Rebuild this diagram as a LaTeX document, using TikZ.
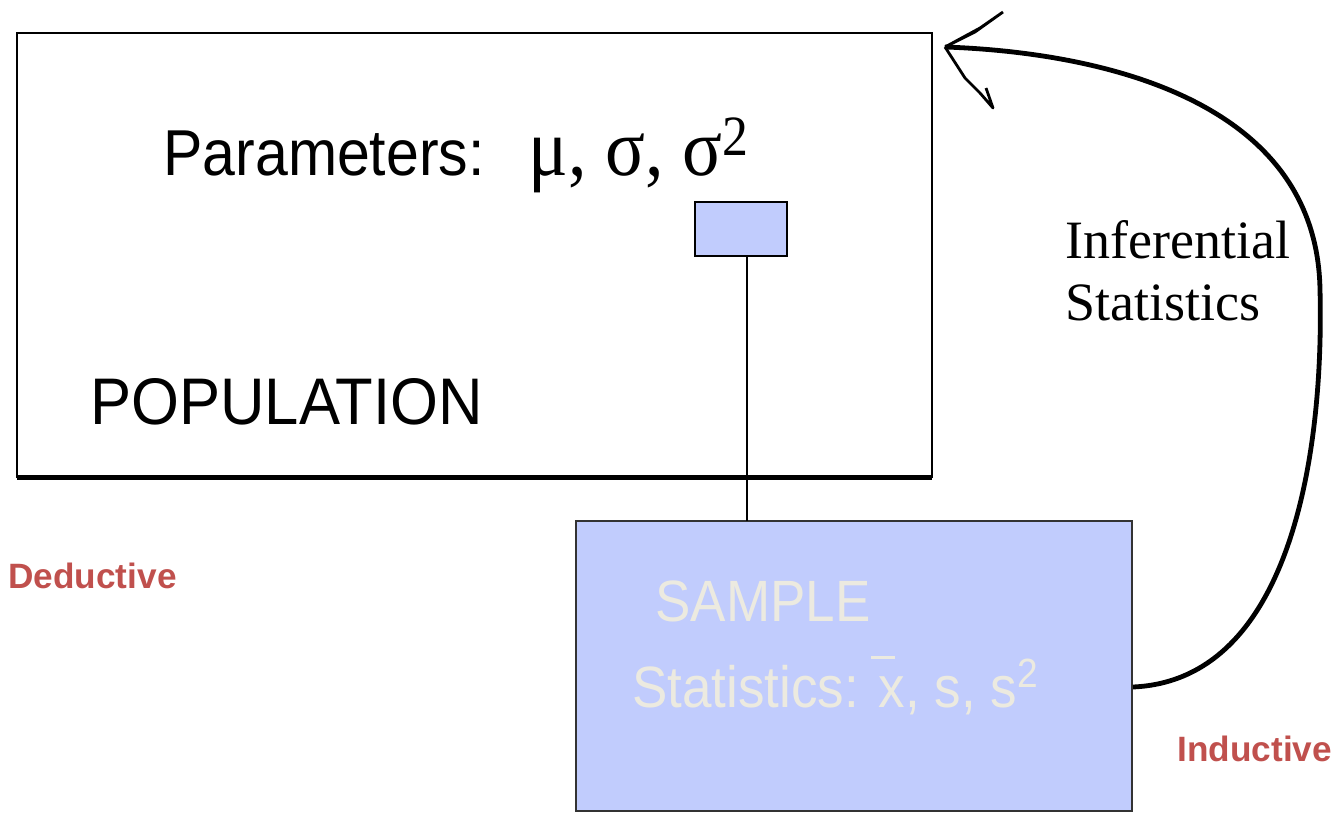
\documentclass[tikz,border=0pt]{standalone}
\usepackage{fontspec}
\setmainfont{Liberation Sans}
\newfontfamily\timesf{Liberation Serif}
\definecolor{boxblue}{HTML}{C1CCFD}
\definecolor{redtxt}{HTML}{C0504D}
\definecolor{paletxt}{HTML}{ECEAE0}
\tikzset{
  boxshape/.style={rectangle, inner sep=0pt, outer sep=0pt, anchor=north west},
  bigtxt/.style={anchor=base west, inner sep=0pt, font=\fontsize{29.5}{35}\selectfont},
  redlabel/.style={anchor=base west, inner sep=0pt, text=redtxt, font=\fontsize{17.6}{20}\selectfont\bfseries},
}
\begin{document}
\begin{tikzpicture}[x=0.5pt,y=-0.5pt]
\useasboundingbox (0,0) rectangle (1337,813);
% population
\node[boxshape, draw=black, line width=1pt, minimum width=457.5pt, minimum height=222pt] (pop) at (17,33) {};
\draw[line width=2.5pt] (pop.south west) -- (pop.south east);
\node[bigtxt] (params) at (163,175) {\scalebox{1}[1.1]{Parameters:\hspace{0.75em}{\timesf\fontsize{37}{40}\selectfont μ, σ, σ\textsuperscript{2}}}};
\node[bigtxt, font=\fontsize{30.8}{35}\selectfont] (poptxt) at (90,424) {\scalebox{1}[1.07]{POPULATION}};
% small box
\node[boxshape, draw=black, line width=1pt, fill=boxblue, minimum width=46pt, minimum height=27pt] (small) at (695,202) {};
% sample
\node[boxshape, draw=black!80, line width=0.9pt, fill=boxblue, minimum width=278pt, minimum height=145pt] (sample) at (576,521) {};
\draw[line width=0.6pt] ([xshift=3pt]small.south) -- ([xshift=3pt]small.south |- sample.north);
\node[bigtxt, text=paletxt, font=\fontsize{26.5}{30}\selectfont] (samptxt) at (655,621) {\scalebox{1}[1.1]{SAMPLE}};
\node[bigtxt, text=paletxt, font=\fontsize{26.5}{30}\selectfont] (stattxt) at (632,707) {\scalebox{1}[1.1]{Statistics: \hspace{-0.15em}\rlap{\rule[0.82em]{0.45em}{0.05em}}\hspace{0.15em}x, s, s\textsuperscript{2}}};
% inferential
\node[anchor=base west, inner sep=0pt, align=left, font=\timesf\fontsize{27}{31}\selectfont] (inf) at (1065,320) {Inferential\\Statistics};
% labels
\node[redlabel] (ded) at (8,588) {Deductive};
\node[redlabel] (ind) at (1177,761) {Inductive};
% curved arrow
\coordinate (start) at (1133,687);
\coordinate (tip) at (945,47);
\draw[line width=2.4pt] (start) .. controls (1292,680) and (1324,450) .. (1320,290)
  .. controls (1317,95) and (1090,52) .. (tip);
\coordinate (barbup) at (1003,12);
\coordinate (barbmid) at (965,78);
\coordinate (barbdown) at (993,108);
\coordinate (barbhook) at (986,88);
\draw[line width=1.4pt, fill=blue!50!gray] (tip) -- (975,32) -- (barbup) -- (980,28) -- cycle;
\draw[line width=1.4pt, line join=round] (tip) -- (barbmid) -- (980,93) -- (barbdown) -- (barbhook);
\end{tikzpicture}
\end{document}
